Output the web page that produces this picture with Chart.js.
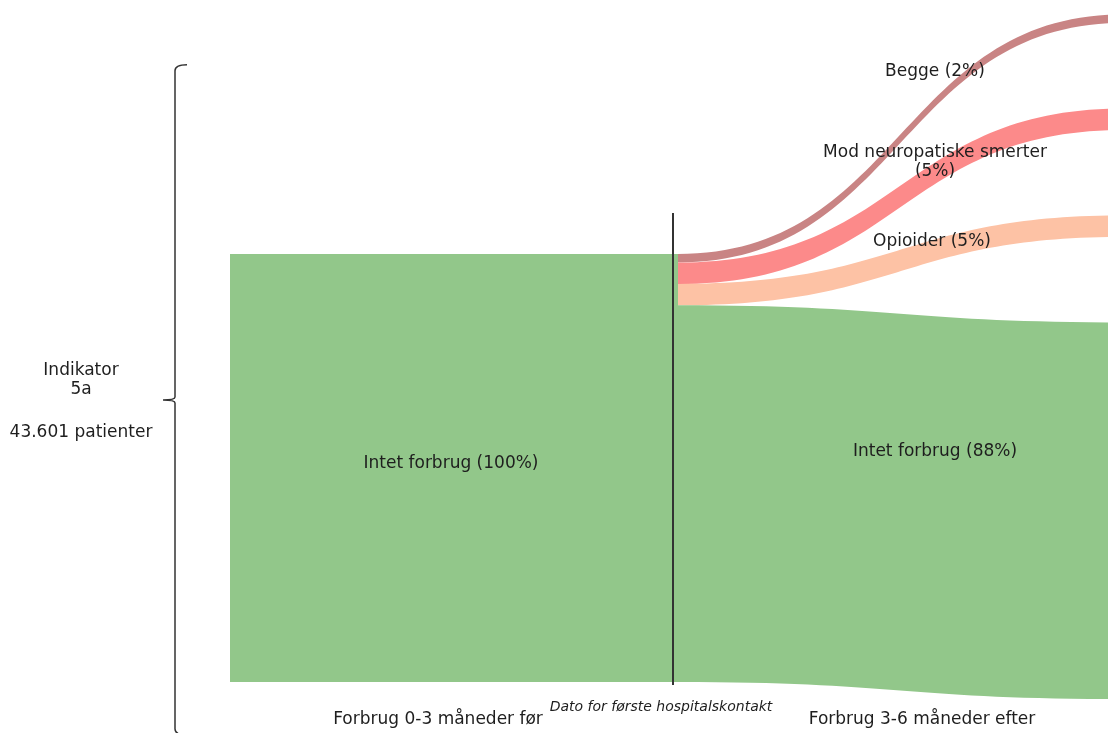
<!DOCTYPE html>
<html>
<head>
<meta charset="utf-8">
<script src="https://cdn.jsdelivr.net/npm/chart.js@4"></script>
<style>
  body { margin: 0; background: #fff; }
  #wrap { width: 1108px; height: 733px; }
</style>
</head>
<body>
<div id="wrap"><canvas id="sankey" width="1108" height="733"></canvas></div>
<script>
// data (percent of patients)
const sourceLabel = "Intet forbrug (100%)";
const targets = ["Begge", "Mod neuropatiske smerter", "Opioider", "Intet forbrug"];
const shares = [2, 5, 5, 88];
const columnTitles = ["Forbrug 0-3 måneder før", "Forbrug 3-6 måneder efter"];
const indicator = ["Indikator", "5a", "43.601 patienter"];
const eventLabel = "Dato for første hospitalskontakt";

// colours per target
const colors = ["#c98484", "#fc8a8a", "#fdc2a5", "#92c78a"];
const nodeColor = "#92c78a";
const font = "17px 'DejaVu Sans', Verdana, sans-serif";

// layout (x in pixels, y in percent units, 1% = 4.28px)
const leftX0 = 230, leftX1 = 678;
const flowX0 = 678, flowX1 = 1124;
const rightTop = 156, nodePad = 20;
const lineX = 673;
const pct = px => px / 4.28;

const sankeyPlugin = {
  id: 'sankey',
  beforeDatasetsDraw(chart) {
    const ctx = chart.ctx;
    const x = chart.scales.x, y = chart.scales.y;
    const px = v => x.getPixelForValue(v);
    const py = v => y.getPixelForValue(v);

    // left node
    ctx.fillStyle = nodeColor;
    ctx.fillRect(px(leftX0), py(100), px(leftX1) - px(leftX0), py(0) - py(100));

    // flows
    let lTop = 100, rTop = rightTop;
    const xm = (px(flowX0) + px(flowX1)) / 2;
    shares.forEach((s, i) => {
      const a0 = py(lTop), a1 = py(lTop - s);
      const b0 = py(rTop), b1 = py(rTop - s);
      ctx.beginPath();
      ctx.moveTo(px(flowX0), a0);
      ctx.bezierCurveTo(xm, a0, xm, b0, px(flowX1), b0);
      ctx.lineTo(px(flowX1), b1);
      ctx.bezierCurveTo(xm, b1, xm, a1, px(flowX0), a1);
      ctx.closePath();
      ctx.fillStyle = colors[i];
      ctx.fill();
      lTop -= s;
      rTop -= s + nodePad;
    });

    // event line
    ctx.strokeStyle = "#333";
    ctx.lineWidth = 2;
    ctx.beginPath();
    ctx.moveTo(px(lineX), py(109.6));
    ctx.lineTo(px(lineX), py(-0.7));
    ctx.stroke();

    // brace
    const bx = px(175), bTop = py(144.2), bBot = py(-12.4), bMid = (bTop + bBot) / 2;
    ctx.strokeStyle = "#333";
    ctx.lineWidth = 1.5;
    ctx.beginPath();
    ctx.moveTo(bx + 12, bTop);
    ctx.quadraticCurveTo(bx, bTop, bx, bTop + 6);
    ctx.lineTo(bx, bMid - 3);
    ctx.quadraticCurveTo(bx, bMid, bx - 12, bMid);
    ctx.quadraticCurveTo(bx, bMid, bx, bMid + 3);
    ctx.lineTo(bx, bBot - 6);
    ctx.quadraticCurveTo(bx, bBot, bx + 12, bBot);
    ctx.stroke();

    // texts
    ctx.fillStyle = "#1e1e1e";
    ctx.font = font;
    ctx.textAlign = "center";
    ctx.textBaseline = "middle";
    ctx.fillText(indicator[0], px(81), py(100 - pct(371 - 254)));
    ctx.fillText(indicator[1], px(81), py(100 - pct(390 - 254)));
    ctx.fillText(indicator[2], px(81), py(100 - pct(433 - 254)));

    ctx.fillText(sourceLabel, px(451), py(100 - pct(464 - 254)));
    const labelY = [72, 162, 242, 452].map(v => 100 - pct(v - 254));
    ctx.fillText(targets[0] + " (" + shares[0] + "%)", px(935), py(labelY[0]));
    ctx.fillText(targets[1], px(935), py(labelY[1] + pct(9.5)));
    ctx.fillText("(" + shares[1] + "%)", px(935), py(labelY[1] - pct(9.5)));
    ctx.fillText(targets[2] + " (" + shares[2] + "%)", px(932), py(labelY[2]));
    ctx.fillText(targets[3] + " (" + shares[3] + "%)", px(935), py(labelY[3]));

    ctx.fillText(columnTitles[0], px(438), py(100 - pct(720 - 254)));
    ctx.fillText(columnTitles[1], px(922), py(100 - pct(720 - 254)));
    ctx.font = "italic 14px 'DejaVu Sans', Verdana, sans-serif";
    ctx.fillText(eventLabel, px(661), py(100 - pct(707 - 254)));
  }
};

new Chart(document.getElementById('sankey'), {
  type: 'scatter',
  data: { datasets: [{ data: [], pointRadius: 0 }] },
  options: {
    responsive: false,
    animation: false,
    layout: { padding: 0 },
    scales: {
      x: { type: 'linear', min: 0, max: 1108, display: false },
      y: { type: 'linear', min: 100 - pct(733 - 254), max: 100 + pct(254), display: false }
    },
    plugins: { legend: { display: false }, tooltip: { enabled: false } }
  },
  plugins: [sankeyPlugin]
});
</script>
</body>
</html>
